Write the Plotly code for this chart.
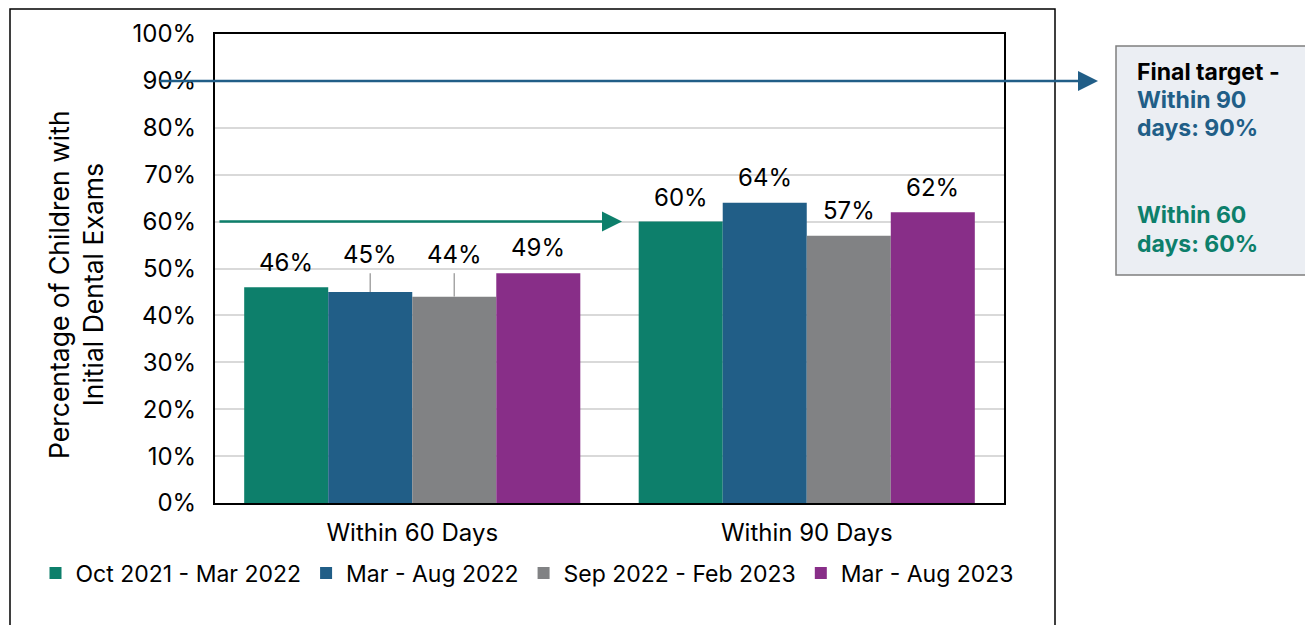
import plotly.graph_objects as go

categories = ["Within 60 Days", "Within 90 Days"]
series_names = ["Oct 2021 - Mar 2022", "Mar - Aug 2022", "Sep 2022 - Feb 2023", "Mar - Aug 2023"]
series_values = [
    [0.46, 0.60],
    [0.45, 0.64],
    [0.44, 0.57],
    [0.49, 0.62],
]
colors = ["#0D7F6B", "#215E87", "#818284", "#882E88"]
target_90 = 0.90
target_60 = 0.60
box_lines = [("Final target -", "#000000"), ("Within 90", "#215E87"), ("days: 90%", "#215E87"),
             ("Within 60", "#0D7F6B"), ("days: 60%", "#0D7F6B")]
# label vertical offsets (px) for each series/category
label_shift = [[25, 24], [37, 25], [42, 25], [26, 25]]

W, H = 1313, 625
OFF = 8  # page body margin
px = lambda v: (v - OFF) / W
py = lambda v: 1 - (v - OFF) / H
FONT = "Inter, Liberation Sans"

bargap = 0.148
barw = (1 - bargap) / 4

fig = go.Figure()
for name, vals, c in zip(series_names, series_values, colors):
    fig.add_trace(go.Bar(x=categories, y=vals, name=name, marker=dict(color=c, line=dict(width=0))))

annotations = []
shapes = []
for i, vals in enumerate(series_values):
    for j, v in enumerate(vals):
        xpos = j + (i - 1.5) * barw
        annotations.append(dict(x=xpos, y=v, xref="x", yref="y", text=f"{round(v*100)}%",
                                showarrow=False, yanchor="middle", yshift=label_shift[i][j],
                                font=dict(family=FONT, size=24, color="#000")))
        if label_shift[i][j] > 30:
            shapes.append(dict(type="line", xref="x", yref="y", x0=xpos, x1=xpos, y0=v, y1=0.49,
                               line=dict(color="#A6A6A6", width=1.5)))

# outer border
shapes.append(dict(type="rect", xref="paper", yref="paper", x0=px(10), x1=px(1055), y0=-0.05, y1=py(9),
                   line=dict(color="#000", width=1.5), fillcolor="rgba(0,0,0,0)", layer="below"))
# right text box
shapes.append(dict(type="rect", xref="paper", yref="paper", x0=px(1116), x1=px(1400), y0=py(275), y1=py(46),
                   line=dict(color="#7F7F7F", width=1.5), fillcolor="#EBEEF3"))

# target arrows
annotations.append(dict(x=px(1098), y=target_90, xref="paper", yref="y", ax=158 - 1098, ay=0,
                        axref="pixel", ayref="pixel", text="", showarrow=True, arrowhead=2, arrowsize=1.6,
                        arrowwidth=2.5, arrowcolor="#215E87", standoff=0))
annotations.append(dict(x=px(622), y=target_60, xref="paper", yref="y", ax=218 - 622, ay=0,
                        axref="pixel", ayref="pixel", text="", showarrow=True, arrowhead=2, arrowsize=1.6,
                        arrowwidth=2.5, arrowcolor="#0D7F6B", standoff=0))

for (txt, col), yc in zip(box_lines, [72, 100, 128, 215, 244]):
    annotations.append(dict(x=px(1135), y=py(yc), xref="paper", yref="paper", xanchor="left", yanchor="middle",
                            align="left", showarrow=False, text=f"<b>{txt}</b>",
                            font=dict(family=FONT, size=23, color=col)))

# y-axis title
annotations.append(dict(x=px(76), y=(py(110) + py(460)) / 2, xref="paper", yref="paper", textangle=-90,
                        xanchor="center", yanchor="middle",
                        showarrow=False, text="Percentage of Children with<br>Initial Dental Exams",
                        font=dict(family=FONT, size=26.5, color="#000")))

fig.update_layout(
    width=W, height=H,
    margin=dict(l=0, r=0, t=0, b=0, autoexpand=False),
    paper_bgcolor="white", plot_bgcolor="white",
    barmode="group", bargap=bargap, bargroupgap=0,
    showlegend=True,
    legend=dict(orientation="h", x=px(527), xanchor="center", y=py(573), yanchor="middle",
                font=dict(family=FONT, size=23, color="#000"),
                itemwidth=30, tracegroupgap=0),
    xaxis=dict(domain=[px(215), px(1004)], showline=True, linecolor="#000", linewidth=2, mirror=True,
               ticks="", tickfont=dict(family=FONT, size=24, color="#000"),
               ticklabelstandoff=7, automargin=False),
    yaxis=dict(domain=[py(503), py(34)], range=[0, 1], dtick=0.1, tickformat=".0%",
               showline=True, linecolor="#000", linewidth=2, mirror=True,
               gridcolor="#D9D9D9", gridwidth=1.5, ticks="",
               tickfont=dict(family=FONT, size=24, color="#000"), ticklabelstandoff=12, automargin=False),
    annotations=annotations, shapes=shapes,
)

fig.write_html("out.html")
